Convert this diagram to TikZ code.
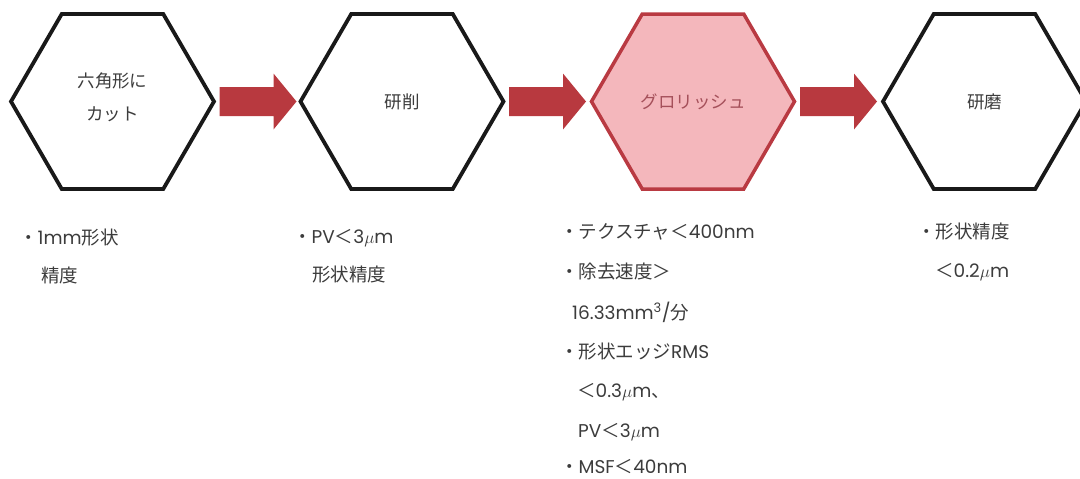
\documentclass[tikz,border=0pt]{standalone}
\usepackage{fontspec}
\setmainfont{Noto Sans CJK JP}
\newfontfamily\lat{Poppins}
\usetikzlibrary{calc}
\definecolor{arrowred}{HTML}{B8393F}
\definecolor{hexpink}{HTML}{F4B7BC}
\definecolor{hexborder}{HTML}{B93A42}
\definecolor{txtgrey}{HTML}{3C3C3C}
\definecolor{pinktxt}{HTML}{A5505A}
\newcommand\myhex[2]{\path[#2] (#1) ++(-101.5,0) -- ++(50.75,87.5) -- ++(101.5,0) -- ++(50.75,-87.5) -- ++(-50.75,-87.5) -- ++(-101.5,0) -- cycle;}
\newcommand\myarrow[2]{\fill[arrowred] ($(#1)+(107,-14.5)$) -- ++(54,0) -- ++(0,-13.5) -- ++(23,28) -- ++(-23,28) -- ++(0,-13.5) -- ++(-54,0) -- cycle;}
\newcommand\mum{$\mu$m}
\begin{document}
\begin{tikzpicture}[x=1pt,y=-1pt,
  hexblack/.style={draw=black!90,line width=3.8pt,fill=white,line join=miter},
  hexred/.style={draw=hexborder,line width=3.5pt,fill=hexpink,line join=miter},
  hexlabel/.style={font=\fontsize{17.5}{33}\selectfont,text=txtgrey,align=center,inner sep=0pt},
  itemtxt/.style={font=\fontsize{18.5}{20}\selectfont,text=txtgrey,anchor=west,inner sep=0pt}]
\useasboundingbox (0,0) rectangle (1080,479);
\coordinate (c1) at (112.5,101.5);
\coordinate (c2) at (402,101.5);
\coordinate (c3) at (693,101.5);
\coordinate (c4) at (984.5,101.5);
\myhex{c1}{hexblack}
\myhex{c2}{hexblack}
\myhex{c3}{hexred}
\begin{scope}
\clip (0,0) rectangle (1080,479);
\myhex{c4}{hexblack}
\end{scope}
\node[hexlabel] (h1) at ($(c1)+(0,-4)$) {六角形に\\カット};
\node[hexlabel] (h2) at (c2) {研削};
\node[hexlabel,text=pinktxt] (h3) at (c3) {グロリッシュ};
\node[hexlabel] (h4) at (c4) {研磨};
\myarrow{c1}{c2}
\myarrow{c2}{c3}
\myarrow{c3}{c4}
% column 1
\node[itemtxt] (a1) at (19,238) {・{\lat 1mm}形状};
\node[itemtxt] (a2) at (41,275) {精度};
% column 2
\node[itemtxt] (b1) at (293,238) {・{\lat PV}＜{\lat 3\mum}};
\node[itemtxt] (b2) at (312,275) {形状精度};
% column 3
\node[itemtxt] (d1) at (560,232) {・テクスチャ＜{\lat 400nm}};
\node[itemtxt] (d2) at (560,272) {・除去速度＞};
\node[itemtxt] (d3) at (572,312) {{\lat 16.33mm\textsuperscript{3}/}分};
\node[itemtxt] (d4) at (560,352) {・形状エッジ{\lat RMS}};
\node[itemtxt] (d5) at (577,392) {＜{\lat 0.3\mum}、};
\node[itemtxt] (d6) at (578,432) {{\lat PV}＜{\lat 3\mum}};
\node[itemtxt] (d7) at (560,467) {・{\lat MSF}＜{\lat 40nm}};
% column 4
\node[itemtxt] (e1) at (917,232) {・形状精度};
\node[itemtxt] (e2) at (935,272) {＜{\lat 0.2\mum}};
\end{tikzpicture}
\end{document}
